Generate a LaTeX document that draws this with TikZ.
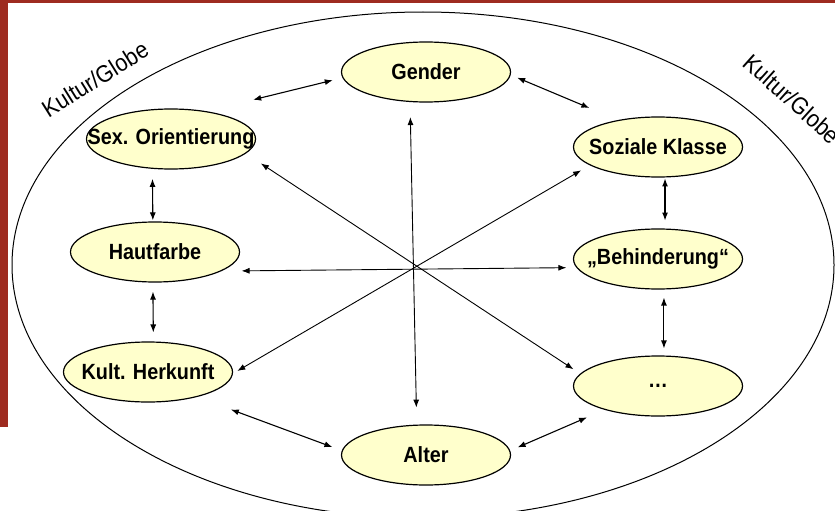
\documentclass[tikz,border=0pt]{standalone}
\usepackage{fontspec}
\setmainfont{Liberation Sans}[FakeStretch=0.9]
\usetikzlibrary{shapes.geometric, arrows.meta}
\definecolor{barred}{RGB}{158,43,32}
\definecolor{factorfill}{RGB}{255,255,204}
\tikzset{
  factor/.style={ellipse, draw, line width=1.2pt, fill=factorfill,
    minimum width=169pt, minimum height=60pt, inner sep=0pt,
    font=\bfseries\fontsize{22}{26}\selectfont,
    execute at begin node={\hbox to 0pt\bgroup\hss},
    execute at end node={\hss\egroup}},
  link/.style={<->, line width=1.1pt},
  cross/.style={<->, line width=0.9pt},
  globelabel/.style={font=\fontsize{24}{28}\selectfont, inner sep=0pt}
}

\begin{document}
\begin{tikzpicture}[x=1pt, y=-1pt, >={Latex[length=8pt, width=6pt]}]
  \useasboundingbox (0,0) rectangle (835,511);
  \fill[barred] (0,0) rectangle (835,3);
  \fill[barred] (0,0) rectangle (8,427);
  \node (globe) [ellipse, draw, line width=1pt, minimum width=822pt, minimum height=506pt] at (423,265) {};
  \node (kulturl) [globelabel, rotate=32] at (95,79) {Kultur/Globe};
  \node (kulturr) [globelabel, rotate=-42] at (792,99) {Kultur/Globe};
  % the factors
  \node (gender) [factor] at (426,72) {Gender};
  \node (sexor) [factor] at (171,139) {Sex. Orientierung};
  \node (sozial) [factor] at (658,147) {Soziale Klasse};
  \node (haut) [factor] at (155,252) {Hautfarbe};
  \node (behind) [factor] at (658,259) {„Behinderung“};
  \node (kult) [factor] at (148,372) {Kult. Herkunft};
  \node (alter) [factor] at (426,455) {Alter};
  \node (etc) [factor] at (658,386) {…};
  % ring
  \draw[link, shorten <=48pt, shorten >=10pt] (sexor.38) -- (gender.184);
  \draw[link, shorten <=7pt, shorten >=31pt] (gender.-2) -- (sozial.146);
  \draw[link, shorten <=1pt, shorten >=8pt] (sozial.-77) -- (behind.77);
  \draw[link, shorten <=8pt, shorten >=7pt] (behind.-79) -- (etc.79);
  \draw[link, shorten <=19pt, shorten >=8pt] (etc.204) -- (alter.3);
  \draw[link, shorten <=10pt, shorten >=36pt] (alter.177) -- (kult.-27);
  \draw[link, shorten <=9pt, shorten >=9pt] (kult.80) -- (haut.-94);
  \draw[link, shorten <=1pt, shorten >=10pt] (haut.94) -- (sexor.-122);
  % across
  \draw[cross, shorten <=15pt, shorten >=17pt] (gender.-118) -- (alter.107);
  \draw[cross, shorten <=20pt, shorten >=10pt] (haut.-16) -- (behind.186);
  \draw[cross, shorten <=18pt, shorten >=8pt] (sexor.-11) -- (etc.171);
  \draw[cross, shorten <=5pt, shorten >=10pt] (kult.-1) -- (sozial.195);
\end{tikzpicture}
\end{document}
